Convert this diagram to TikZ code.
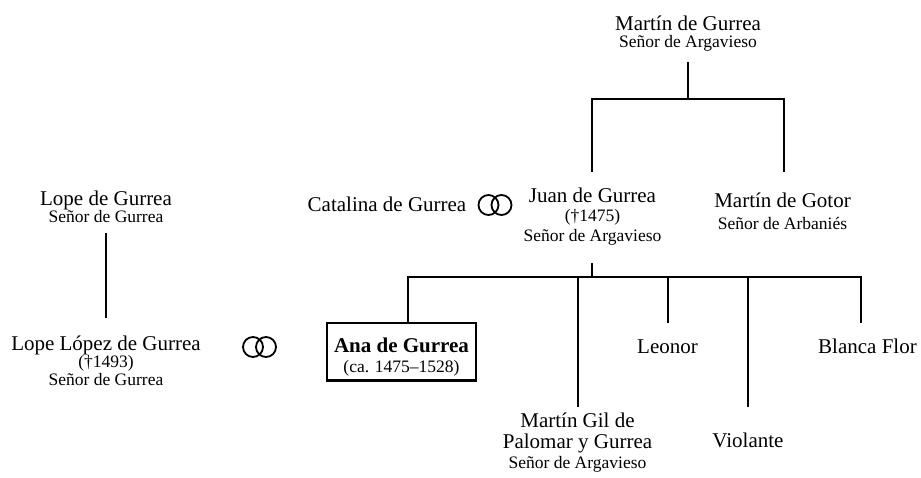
\documentclass[tikz,border=0pt]{standalone}
\usepackage{fontspec}
\setmainfont{Liberation Serif}
\usetikzlibrary{positioning}
\newcommand{\lordtxt}{\fontsize{17.5}{19.5}\selectfont}
\tikzset{
	person/.style={align=center,inner sep=0pt,anchor=base,font=\fontsize{21}{19.5}\selectfont},
	chosen/.style={person,draw,line width=2.5pt,inner xsep=7pt,inner ysep=5pt},
	link/.style={line width=2pt},
	marriage/.pic={\draw[line width=1.8pt] (-6.5,0) circle (10pt) (6.5,0) circle (10pt);}
}

\begin{document}
\begin{tikzpicture}[x=1pt,y=-1pt]
	\useasboundingbox (0,0) rectangle (921,477);
	% Gurrea de Argavieso (base = last line)
	\node[person] (mdg) at (688,47) {Martín de Gurrea\\[-2.5pt]{\lordtxt Señor de Argavieso}};
	\node[person] (juan) at (592.5,241) {Juan de Gurrea\\{\lordtxt (†1475)}\\{\lordtxt Señor de Argavieso}};
	\node[person] (gotor) at (782.5,229) {Martín de Gotor\\[2.5pt]{\lordtxt Señor de Arbaniés}};
	\node[person] (catalina) at (387,211) {Catalina de Gurrea};
	\pic at (495,205) {marriage};
	% Gurrea
	\node[person] (lope) at (106,222) {Lope de Gurrea\\[-2.5pt]{\lordtxt Señor de Gurrea}};
	\node[person] (lopez) at (106,385) {Lope López de Gurrea\\[-2pt]{\lordtxt (†1493)}\\[-2pt]{\lordtxt Señor de Gurrea}};
	\pic at (259.5,347) {marriage};
	% children
	\node[chosen] (ana) at (401.5,372) {\rule{0pt}{23.8pt}\textbf{Ana de Gurrea}\\[0.5pt]{\lordtxt (ca. 1475–1528)}};
	\node[person] (gil) at (577.5,468) {Martín Gil de\\[1.5pt]Palomar y Gurrea\\{\lordtxt Señor de Argavieso}};
	\node[person] (leonor) at (667.5,353) {Leonor};
	\node[person] (violante) at (748,447) {Violante};
	\node[person] (blanca) at (867.5,353) {Blanca Flor};

	\coordinate (mdgfork) at (688,99);
	\coordinate (juanfork) at (592,277);
	\draw[link] ([yshift=-15pt]mdg.base) -- (mdgfork);
	\draw[link] ([xshift=-0.5pt,yshift=69pt]juan.base) |- (mdgfork) -| ([xshift=1.5pt,yshift=57pt]gotor.base);
	\draw[link] ([xshift=-0.5pt,yshift=-22pt]juan.base) -- (juanfork);
	\draw[link] ([xshift=6pt]ana.north) |- (juanfork) -| ([xshift=-6.5pt,yshift=30pt]blanca.base);
	\draw[link] ([xshift=0.5pt,yshift=61pt]gil.base) -- ([xshift=0.5pt]gil.base |- juanfork);
	\draw[link] ([xshift=0.5pt,yshift=30pt]leonor.base) -- ([xshift=0.5pt]leonor.base |- juanfork);
	\draw[link] ([yshift=40pt]violante.base) -- (violante.base |- juanfork);
	\draw[link] ([yshift=-11pt]lope.base) -- ([yshift=67pt]lopez.base);
\end{tikzpicture}
\end{document}
